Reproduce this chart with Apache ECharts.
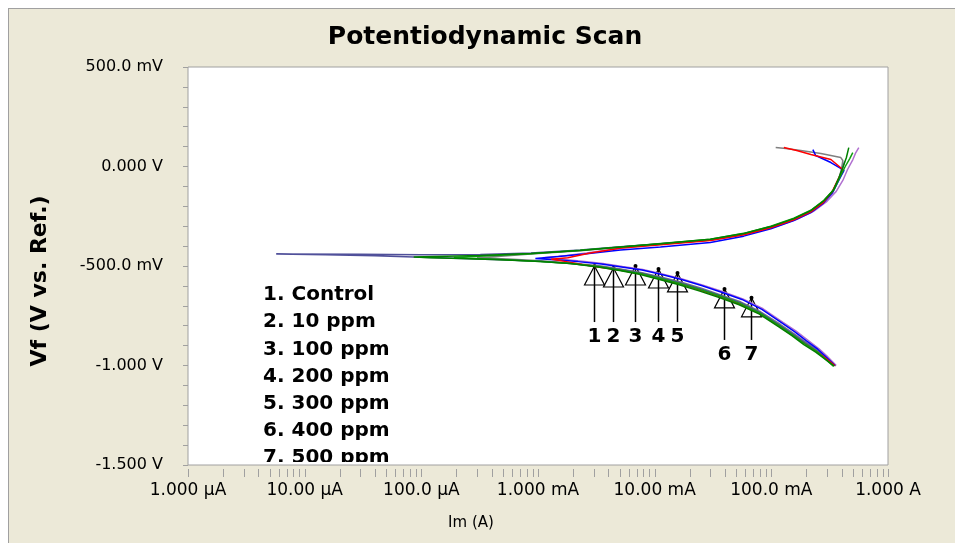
<!DOCTYPE html>
<html><head><meta charset="utf-8">
<script src="https://cdn.jsdelivr.net/npm/echarts@6/dist/echarts.min.js"></script>
<style>
html,body{margin:0;padding:0;background:#fff;}
#frame{position:absolute;left:8px;top:8px;width:946px;height:534px;background:#ECE9D8;border-left:1px solid #a0a0a0;border-top:1px solid #a0a0a0;}
#c{position:absolute;left:0;top:0;width:955px;height:543px;}
</style>
</head><body><div id="frame"></div><div id="c"></div>
<script>
// ---- tick labels ----
const xTickLabels = ['1.000 µA','10.00 µA','100.0 µA','1.000 mA','10.00 mA','100.0 mA','1.000 A'];
const yTickLabels = ['-1.500 V','-1.000 V','-500.0 mV','0.000 V','500.0 mV'];
const seriesNames = ['1. Control','2. 10 ppm','3. 100 ppm','4. 200 ppm','5. 300 ppm','6. 400 ppm','7. 500 ppm'];

// ---- curves: [current (A), potential (V)] in scan order ----
const curveControl = [[0.350,-1.0],[0.290,-0.962],[0.245,-0.93],[0.195,-0.892],[0.152,-0.848],[0.118,-0.805],[0.080,-0.74],[0.054,-0.692],[0.0365,-0.655],[0.0245,-0.622],[0.0165,-0.59],[0.0112,-0.565],[0.0076,-0.54],[0.0051,-0.522],[0.0035,-0.507],[0.0024,-0.492],[0.00175,-0.478],[0.0013,-0.466],[0.0018,-0.458],[0.0028,-0.435],[0.0052,-0.41],[0.0113,-0.393],[0.030,-0.372],[0.058,-0.343],[0.099,-0.308],[0.156,-0.268],[0.218,-0.228],[0.28,-0.18],[0.33,-0.13],[0.37,-0.07],[0.40,-0.03],[0.41,-0.015],[0.324,0.035],[0.218,0.06],[0.165,0.08],[0.128,0.095]];
const curve10 = [[0.352,-1.0],[0.292,-0.955],[0.25,-0.918],[0.2,-0.876],[0.158,-0.83],[0.122,-0.785],[0.083,-0.718],[0.056,-0.668],[0.0375,-0.632],[0.0252,-0.598],[0.017,-0.568],[0.0115,-0.543],[0.0078,-0.52],[0.0052,-0.505],[0.0035,-0.49],[0.0022,-0.478],[0.0015,-0.47],[0.00095,-0.462],[0.0015,-0.452],[0.0025,-0.44],[0.0051,-0.42],[0.0112,-0.405],[0.030,-0.382],[0.058,-0.35],[0.099,-0.313],[0.156,-0.272],[0.218,-0.232],[0.28,-0.184],[0.335,-0.132],[0.38,-0.067],[0.42,-0.02],[0.435,-0.025],[0.324,0.02],[0.24,0.055],[0.227,0.085]];
const curve100 = [[0.345,-1.002],[0.285,-0.965],[0.24,-0.933],[0.19,-0.895],[0.15,-0.85],[0.116,-0.806],[0.079,-0.742],[0.053,-0.695],[0.0358,-0.658],[0.024,-0.625],[0.0162,-0.594],[0.011,-0.568],[0.0074,-0.542],[0.005,-0.523],[0.0034,-0.506],[0.0019,-0.488],[0.00105,-0.477],[0.00048,-0.468],[0.00022,-0.462],[0.00012,-0.458],[0.000086,-0.455],[0.00013,-0.452],[0.00032,-0.447],[0.00087,-0.437],[0.0023,-0.422],[0.0051,-0.405],[0.0113,-0.388],[0.030,-0.366],[0.058,-0.337],[0.099,-0.302],[0.156,-0.262],[0.218,-0.222],[0.282,-0.172],[0.34,-0.12],[0.38,-0.055],[0.41,-0.005],[0.44,0.045],[0.461,0.095]];
const curve200 = [[0.36,-1.0],[0.30,-0.953],[0.255,-0.915],[0.205,-0.872],[0.162,-0.826],[0.125,-0.782],[0.085,-0.715],[0.057,-0.665],[0.038,-0.628],[0.0256,-0.595],[0.0172,-0.565],[0.0116,-0.54],[0.0079,-0.518],[0.0053,-0.503],[0.0036,-0.488],[0.0024,-0.476],[0.0016,-0.466],[0.0011,-0.458],[0.0017,-0.448],[0.0026,-0.435],[0.0053,-0.41],[0.0118,-0.39],[0.032,-0.368],[0.062,-0.34],[0.105,-0.305],[0.165,-0.265],[0.23,-0.225],[0.30,-0.175],[0.36,-0.125],[0.41,-0.07],[0.45,-0.015],[0.50,0.035],[0.53,0.07],[0.562,0.095]];
const curve300 = [[0.355,-1.003],[0.29,-0.958],[0.248,-0.922],[0.197,-0.882],[0.155,-0.838],[0.12,-0.794],[0.081,-0.73],[0.0545,-0.68],[0.0368,-0.645],[0.0248,-0.61],[0.0167,-0.58],[0.0113,-0.555],[0.0076,-0.532],[0.0051,-0.515],[0.0035,-0.5],[0.0019,-0.485],[0.00105,-0.474],[0.00055,-0.465],[0.0003,-0.459],[0.00045,-0.452],[0.00087,-0.44],[0.0023,-0.424],[0.0051,-0.406],[0.0113,-0.39],[0.030,-0.369],[0.058,-0.339],[0.099,-0.303],[0.156,-0.263],[0.218,-0.222],[0.282,-0.174],[0.337,-0.122],[0.38,-0.06],[0.40,-0.01],[0.41,0.03],[0.394,0.045],[0.266,0.065],[0.179,0.08],[0.133,0.09],[0.109,0.095]];
const curve400 = [[0.348,-1.0],[0.288,-0.96],[0.246,-0.926],[0.196,-0.886],[0.154,-0.842],[0.119,-0.798],[0.0805,-0.733],[0.0545,-0.684],[0.0366,-0.648],[0.0247,-0.614],[0.0166,-0.584],[0.0112,-0.558],[0.0076,-0.535],[0.0051,-0.517],[0.0034,-0.502],[0.0019,-0.487],[0.00105,-0.476],[0.00048,-0.468],[0.00022,-0.462],[0.0001,-0.456],[0.00004,-0.448],[0.000015,-0.443],[0.0000057,-0.44],[0.00003,-0.441],[0.0001,-0.443],[0.00032,-0.442],[0.00087,-0.435],[0.0023,-0.42],[0.0051,-0.403],[0.0113,-0.388],[0.030,-0.368],[0.058,-0.34],[0.099,-0.305],[0.156,-0.266],[0.218,-0.226],[0.28,-0.178],[0.335,-0.127],[0.375,-0.07],[0.405,-0.015],[0.425,0.025]];
const curve500 = [[0.342,-1.005],[0.285,-0.963],[0.243,-0.928],[0.193,-0.89],[0.151,-0.845],[0.117,-0.8],[0.0795,-0.736],[0.0538,-0.688],[0.0362,-0.651],[0.0244,-0.618],[0.0164,-0.588],[0.0111,-0.562],[0.0075,-0.538],[0.005,-0.52],[0.0034,-0.504],[0.0019,-0.488],[0.00105,-0.477],[0.00048,-0.467],[0.00025,-0.461],[0.00019,-0.457],[0.00028,-0.452],[0.00087,-0.438],[0.0023,-0.421],[0.0051,-0.404],[0.0113,-0.387],[0.030,-0.365],[0.058,-0.336],[0.099,-0.3],[0.156,-0.26],[0.218,-0.22],[0.282,-0.17],[0.345,-0.115],[0.39,-0.05],[0.43,0.0],[0.47,0.04],[0.499,0.07]];

// ---- Tafel markers ----
const annotI = [0.0030,0.0044,0.0068,0.0106,0.0155,0.0392,0.0667];
const annotV = [-0.50,-0.51,-0.50,-0.515,-0.535,-0.615,-0.66];
const annotLabelV = [-0.857,-0.857,-0.857,-0.857,-0.857,-0.947,-0.947];
const annotText = ['1','2','3','4','5','6','7'];

const curves = [
  {name: seriesNames[3], data: curve200, color: '#b070d0'},
  {name: seriesNames[4], data: curve300, color: '#808080'},
  {name: seriesNames[5], data: curve400, color: '#50509a'},
  {name: seriesNames[1], data: curve10, color: '#0000ff'},
  {name: seriesNames[0], data: curveControl, color: '#ff0000'},
  {name: seriesNames[6], data: curve500, color: '#10a010'},
  {name: seriesNames[2], data: curve100, color: '#008000'}
];

const FONT = '"DejaVu Sans", Verdana, sans-serif';
const xMinorTicks = [];
for (let k = -6; k <= 0; k++) {
  for (let m = 1; m <= 9; m++) {
    const v = m * Math.pow(10, k);
    if (v <= 1.0000001) xMinorTicks.push([v, -1.5]);
  }
}

const chart = echarts.init(document.getElementById('c'));
const series = curves.map(c => ({
  name: c.name, type: 'line', data: c.data, showSymbol: false, symbol: 'none',
  lineStyle: {color: c.color, width: 1.5}, itemStyle: {color: c.color}, z: 3, animation: false
}));

series.push({
  type: 'custom', name: 'xticks', data: xMinorTicks, clip: false, silent: true, z: 5,
  renderItem: function (params, api) {
    const p = api.coord([api.value(0), api.value(1)]);
    const x = Math.round(p[0]) + 0.5;
    return {type: 'line', shape: {x1: x, y1: p[1] + 4, x2: x, y2: p[1] + 12},
            style: {stroke: '#a0a0a0', lineWidth: 1}};
  }
});

series.push({
  type: 'custom', name: 'legendText', clip: true, silent: true, z: 4,
  data: [[1e-3, 0]],
  renderItem: function (params, api) {
    const cs = params.coordSys;
    return {type: 'group',
      clipPath: {type: 'rect', shape: {x: cs.x, y: cs.y, width: cs.width, height: cs.height - 3}},
      children: seriesNames.map((n, i) => ({type: 'text', style: {text: n, x: cs.x + 75, y: cs.y + 228 + i * 27.2,
        fill: '#000', font: 'bold 20px ' + FONT, textAlign: 'left', textVerticalAlign: 'middle'}}))};
  }
});

series.push({
  type: 'custom', name: 'markers', clip: false, silent: true, z: 2,
  data: annotI.map((v, i) => [v, annotV[i], annotLabelV[i]]),
  renderItem: function (params, api) {
    const tip = api.coord([api.value(0), api.value(1)]);
    const lab = api.coord([api.value(0), api.value(2)]);
    const x = Math.round(tip[0]) + 0.5, y = tip[1];
    return {type: 'group', children: [
      {type: 'polygon', shape: {points: [[x, y], [x - 10, y + 19], [x + 10, y + 19]]},
       style: {fill: null, stroke: '#000', lineWidth: 1.2}},
      {type: 'line', shape: {x1: x, y1: y, x2: x, y2: lab[1] - 15}, style: {stroke: '#000', lineWidth: 1.5}},
      {type: 'circle', shape: {cx: x, cy: y, r: 2}, style: {fill: '#000'}},
      {type: 'text', style: {text: annotText[params.dataIndex], x: x, y: lab[1], fill: '#000',
        font: 'bold 20px ' + FONT, textAlign: 'center', textVerticalAlign: 'middle'}}
    ]};
  }
});

chart.setOption({
  animation: false,
  backgroundColor: 'transparent',
  grid: {left: 188, right: 67, top: 67, bottom: 78, show: true, backgroundColor: '#ffffff',
         borderColor: '#a0a0a0', borderWidth: 1, containLabel: false},
  xAxis: {
    type: 'log', logBase: 10, min: 1e-6, max: 1, splitNumber: 6,
    axisLine: {show: false}, axisTick: {show: false}, splitLine: {show: false}, minorTick: {show: false},
    axisLabel: {color: '#000', fontFamily: FONT, fontSize: 17, margin: 17, showMinLabel: true, showMaxLabel: true, hideOverlap: false,
      formatter: function (v) { const i = Math.round(Math.log10(v)) + 6; return xTickLabels[i] || ''; }}
  },
  yAxis: {
    type: 'value', min: -1.5, max: 0.5, interval: 0.5,
    axisLine: {show: false},
    axisTick: {show: true, length: 5, lineStyle: {color: '#a0a0a0'}},
    minorTick: {show: true, splitNumber: 5, length: 5, lineStyle: {color: '#a0a0a0'}},
    splitLine: {show: false},
    axisLabel: {color: '#000', fontFamily: FONT, fontSize: 16, margin: 25,
      formatter: function (v) { const i = Math.round((v + 1.5) / 0.5); return yTickLabels[i] || ''; }}
  },
  graphic: [
    {type: 'text', style: {text: 'Potentiodynamic Scan', x: 485, y: 37, fill: '#000',
      font: 'bold 25px ' + FONT, textAlign: 'center', textVerticalAlign: 'middle'}},
    {type: 'text', x: 40, y: 281, rotation: Math.PI / 2,
      style: {text: 'Vf (V vs. Ref.)', x: 0, y: 0, fill: '#000', font: 'bold 22px ' + FONT,
      textAlign: 'center', textVerticalAlign: 'middle'}},
    {type: 'text', style: {text: 'Im (A)', x: 471, y: 523, fill: '#000', font: '15px ' + FONT,
      textAlign: 'center', textVerticalAlign: 'middle'}}
  ],
  series: series
});
</script>
</body></html>
